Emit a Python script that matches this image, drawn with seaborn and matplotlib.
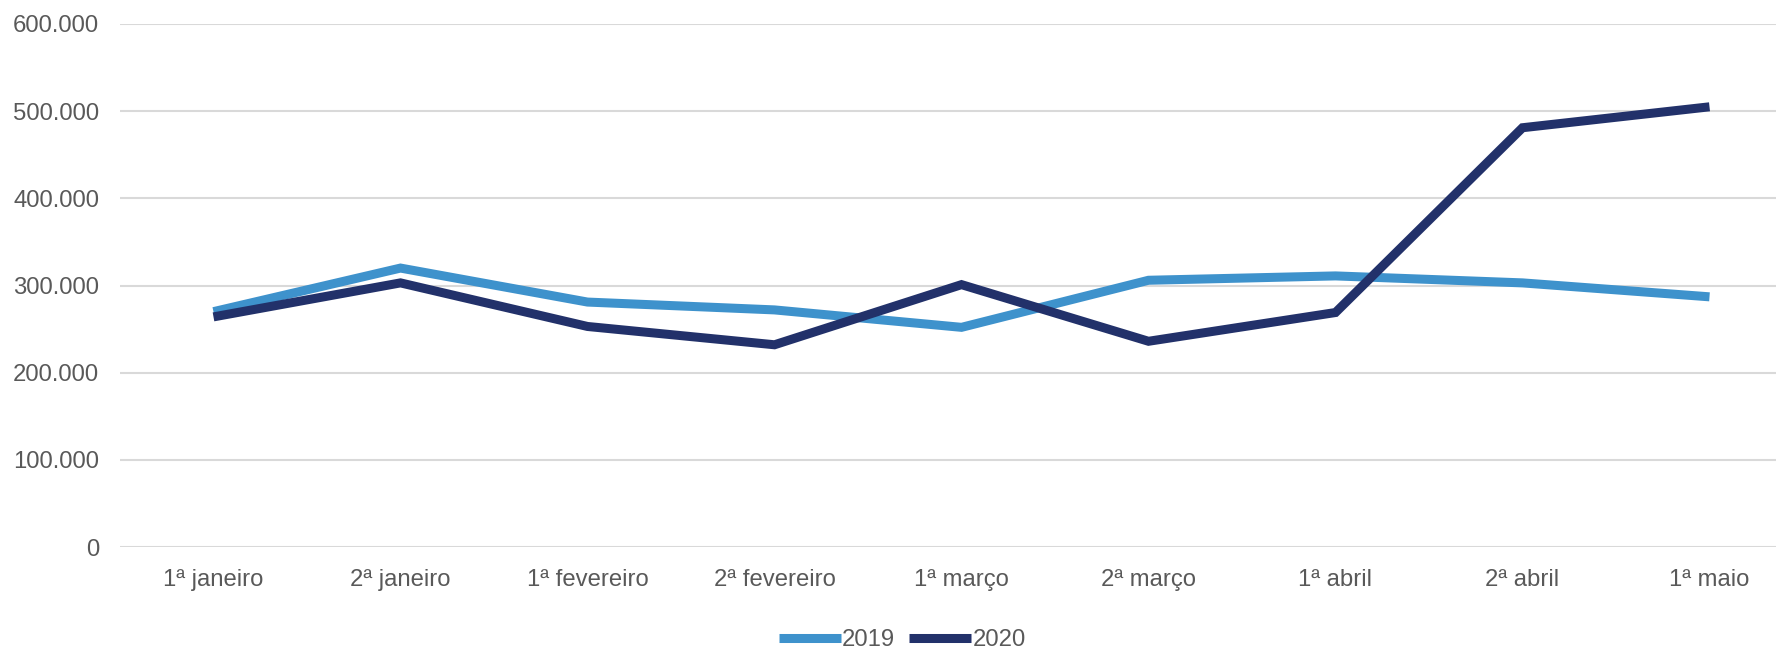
import matplotlib
matplotlib.use("Agg")
import matplotlib.pyplot as plt
from matplotlib.ticker import FuncFormatter
import seaborn as sns
import pandas as pd

categories = ["1ª janeiro", "2ª janeiro", "1ª fevereiro", "2ª fevereiro", "1ª março",
              "2ª março", "1ª abril", "2ª abril", "1ª maio"]
values_2019 = [270000, 320000, 281000, 272000, 252000, 306000, 311000, 303000, 287000]
values_2020 = [264000, 303000, 253000, 232000, 301000, 236000, 269000, 481000, 505000]
series_names = ["2019", "2020"]
y_ticks = [0, 100000, 200000, 300000, 400000, 500000, 600000]

df = pd.DataFrame({
    "periodo": categories * 2,
    "valor": values_2019 + values_2020,
    "ano": [series_names[0]] * len(categories) + [series_names[1]] * len(categories),
})

sns.set_theme(style="white")
plt.rcParams["font.family"] = ["Liberation Sans", "DejaVu Sans"]
text_color = "#595959"
fs = 17.2

fig = plt.figure(figsize=(17.76, 6.5), dpi=100)
ax = fig.add_axes([120 / 1776, 1 - 547 / 650, 1683 / 1776, (547 - 24) / 650])

sns.lineplot(data=df, x="periodo", y="valor", hue="ano", sort=False,
             palette={"2019": "#3E92CC", "2020": "#22316A"},
             linewidth=6.5, ax=ax, legend=True, solid_capstyle="butt",
             solid_joinstyle="miter")

ax.set_xlim(-0.5, 8.5)
ax.set_ylim(0, 600000)
ax.set_yticks(y_ticks)
ax.yaxis.set_major_formatter(FuncFormatter(lambda v, p: f"{int(v):,}".replace(",", ".")))
ax.grid(axis="y", color="#D9D9D9", linewidth=1.5)
ax.grid(axis="x", visible=False)
ax.set_axisbelow(True)
for s in ax.spines.values():
    s.set_visible(False)
ax.set_xlabel("")
ax.set_ylabel("")
ax.tick_params(axis="both", length=0, labelsize=fs, colors=text_color)
ax.tick_params(axis="y", pad=15)
ax.tick_params(axis="x", pad=16)

handles, labels = ax.get_legend_handles_labels()
ax.get_legend().remove()
leg = fig.legend(handles, labels, loc="lower center", bbox_to_anchor=(0.508, -0.035),
                 ncol=2, frameon=False, fontsize=fs, handlelength=2.6,
                 handletextpad=0.05, columnspacing=0.6)
for t in leg.get_texts():
    t.set_color(text_color)
for h in leg.get_lines():
    h.set_linewidth(6.5)

fig.savefig("out.png", dpi=100)
